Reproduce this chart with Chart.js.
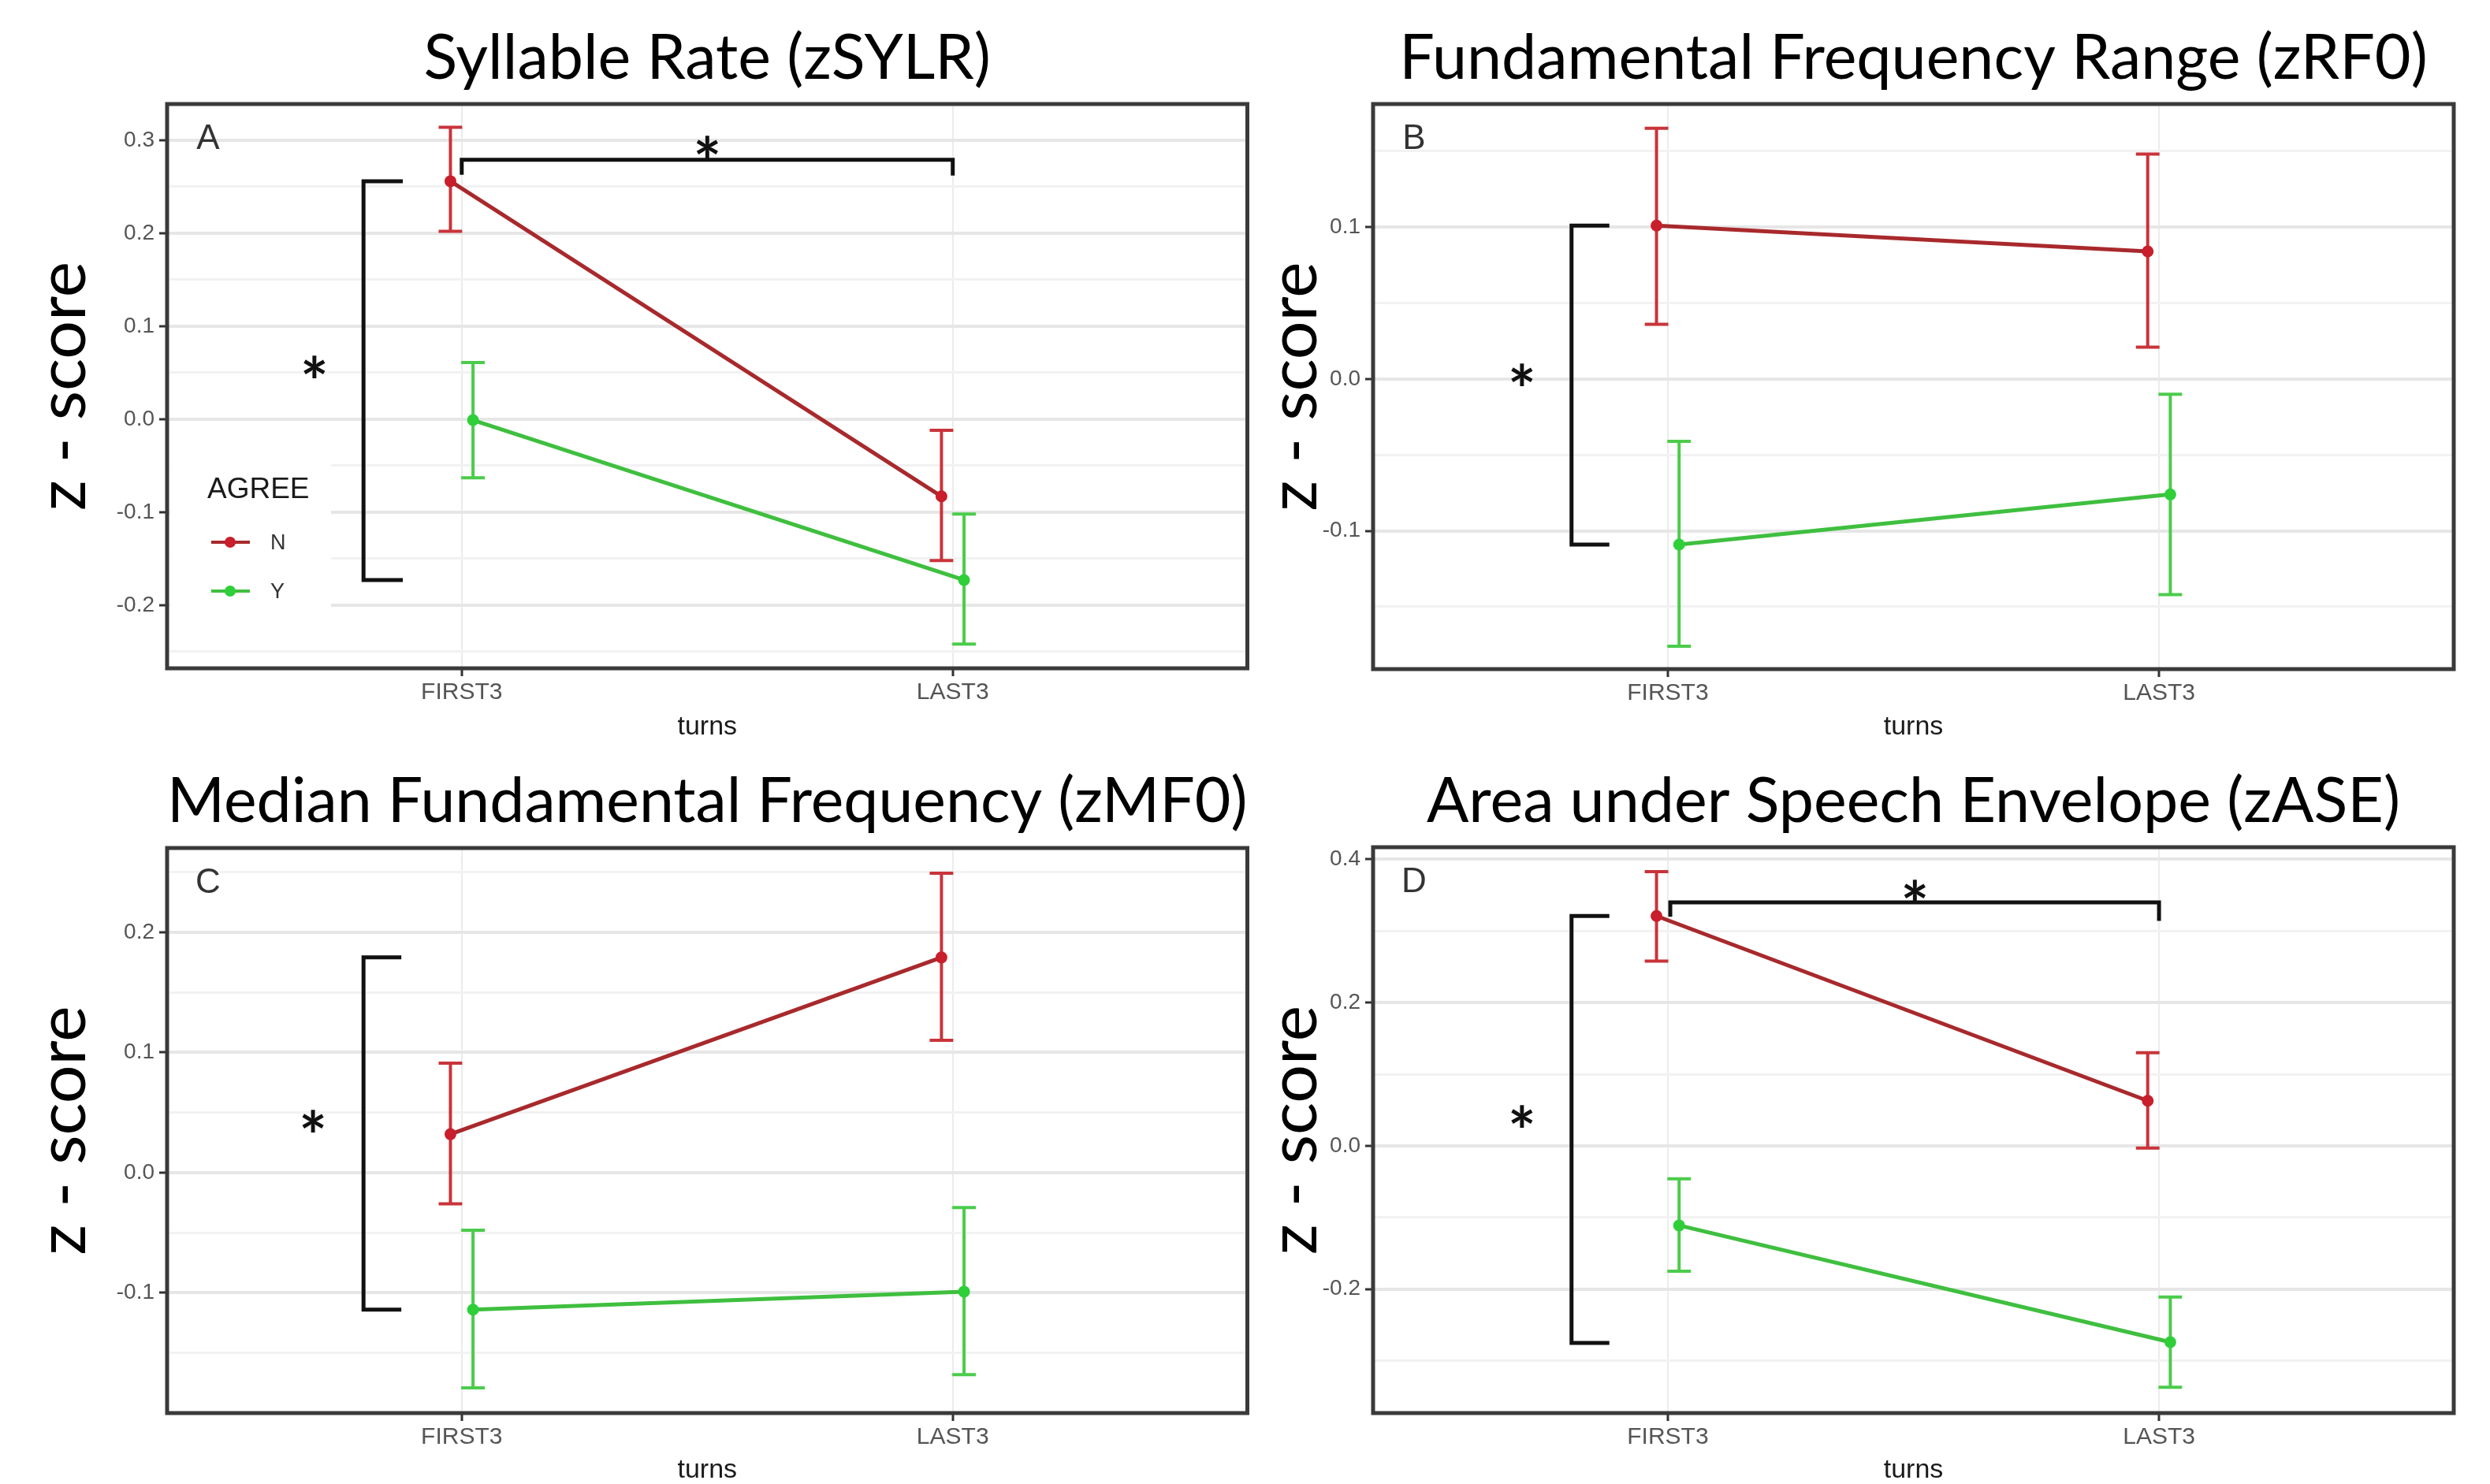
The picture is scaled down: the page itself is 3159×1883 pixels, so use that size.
<!DOCTYPE html>
<html>
<head>
<meta charset="utf-8">
<title>Prosody z-scores by turns and agreement</title>
<script src="https://cdn.jsdelivr.net/npm/chart.js@4.4.1/dist/chart.umd.min.js"></script>
<style>
  body { margin: 0; background: #fff; }
  #page { position: relative; width: 3159px; height: 1883px; background: #fff; overflow: hidden; }
  canvas { position: absolute; }
</style>
</head>
<body>
<div id="page">
  <canvas id="chartA" width="1590" height="945" style="left:0px;top:0px"></canvas>
  <canvas id="chartB" width="1569" height="945" style="left:1590px;top:0px"></canvas>
  <canvas id="chartC" width="1590" height="939" style="left:0px;top:944px"></canvas>
  <canvas id="chartD" width="1569" height="939" style="left:1590px;top:944px"></canvas>
</div>
<script>
const categories = ['FIRST3', 'LAST3'];
const groups = ['N', 'Y'];

// A - syllable rate
const sylrN = [0.256, -0.083];
const sylrNLow = [0.202, -0.152];
const sylrNHigh = [0.314, -0.012];
const sylrY = [-0.001, -0.173];
const sylrYLow = [-0.063, -0.242];
const sylrYHigh = [0.061, -0.102];
const sylrTicks = ['-0.2', '-0.1', '0.0', '0.1', '0.2', '0.3'];
const sylrMinor = [-0.25, -0.15, -0.05, 0.05, 0.15, 0.25];

// B - F0 range
const rf0N = [0.101, 0.084];
const rf0NLow = [0.036, 0.021];
const rf0NHigh = [0.165, 0.148];
const rf0Y = [-0.109, -0.076];
const rf0YLow = [-0.176, -0.142];
const rf0YHigh = [-0.041, -0.010];
const rf0Ticks = ['-0.1', '0.0', '0.1'];
const rf0Minor = [-0.15, -0.05, 0.05, 0.15];

// C - median F0
const mf0N = [0.032, 0.179];
const mf0NLow = [-0.026, 0.110];
const mf0NHigh = [0.091, 0.249];
const mf0Y = [-0.114, -0.099];
const mf0YLow = [-0.179, -0.168];
const mf0YHigh = [-0.048, -0.029];
const mf0Ticks = ['-0.1', '0.0', '0.1', '0.2'];
const mf0Minor = [-0.15, -0.05, 0.05, 0.15, 0.25];

// D - area under speech envelope
const aseN = [0.321, 0.063];
const aseNLow = [0.258, -0.003];
const aseNHigh = [0.383, 0.130];
const aseY = [-0.111, -0.274];
const aseYLow = [-0.175, -0.337];
const aseYHigh = [-0.046, -0.211];
const aseTicks = ['-0.2', '0.0', '0.2', '0.4'];
const aseMinor = [-0.3, -0.1, 0.1, 0.3];

// significance marks: [x, xArm, yTop, yBottom], star [x, y]
const sylrGroupBracket = [-0.2, -0.12, 0.256, -0.173];
const sylrGroupStar = [-0.30, 0.055];
const sylrTurnBracket = [0.0, 1.0, 0.279, 0.263, 0.262];
const sylrTurnStar = [0.5, 0.292];
const rf0GroupBracket = [-0.196, -0.119, 0.101, -0.109];
const rf0GroupStar = [-0.297, 0.002];
const mf0GroupBracket = [-0.2, -0.123, 0.179, -0.114];
const mf0GroupStar = [-0.303, 0.042];
const aseGroupBracket = [-0.196, -0.119, 0.321, -0.275];
const aseGroupStar = [-0.297, 0.040];
const aseTurnBracket = [0.005, 1.0, 0.340, 0.320, 0.314];
const aseTurnStar = [0.503, 0.354];

const RED_LINE = '#a8292c';
const RED_PT = '#c91e2b';
const RED_ERR = '#c8343a';
const GREEN_LINE = '#3fbf3f';
const GREEN_PT = '#2fcf3a';
const GREEN_ERR = '#4bcc4b';
const DODGE = 0.023;
const CAP = 0.024;
const TITLE_FONT = 'Lato';
const AXIS_FONT = 'Liberation Sans';
const STAR_SIZE = 84;

function points(vals, shift) {
  return vals.map((v, i) => ({ x: i + shift, y: v }));
}

const decor = {
  id: 'decor',
  beforeDatasetsDraw(chart) {
    const p = chart.options.plugins.decor;
    const { ctx, scales: { x, y } } = chart;
    ctx.save();
    ctx.lineCap = 'butt';
    p.errors.forEach(e => {
      ctx.strokeStyle = e.color;
      ctx.lineWidth = 4;
      e.low.forEach((lo, i) => {
        const cx = i + e.shift;
        const hi = e.high[i];
        ctx.beginPath();
        ctx.moveTo(x.getPixelForValue(cx), y.getPixelForValue(lo));
        ctx.lineTo(x.getPixelForValue(cx), y.getPixelForValue(hi));
        [lo, hi].forEach(v => {
          ctx.moveTo(x.getPixelForValue(cx - CAP), y.getPixelForValue(v));
          ctx.lineTo(x.getPixelForValue(cx + CAP), y.getPixelForValue(v));
        });
        ctx.stroke();
      });
    });
    ctx.restore();
  },
  afterDatasetsDraw(chart) {
    const p = chart.options.plugins.decor;
    const { ctx, chartArea: a, scales: { x, y } } = chart;
    const X = v => x.getPixelForValue(v);
    const Y = v => y.getPixelForValue(v);
    ctx.save();
    ctx.strokeStyle = '#111';
    ctx.lineWidth = 5;
    ctx.lineJoin = 'miter';
    // group bracket
    const g = p.group;
    ctx.beginPath();
    ctx.moveTo(X(g[1]), Y(g[2]));
    ctx.lineTo(X(g[0]), Y(g[2]));
    ctx.lineTo(X(g[0]), Y(g[3]));
    ctx.lineTo(X(g[1]), Y(g[3]));
    ctx.stroke();
    // turn bracket
    if (p.turn) {
      const t = p.turn;
      ctx.beginPath();
      ctx.moveTo(X(t[0]), Y(t[3]));
      ctx.lineTo(X(t[0]), Y(t[2]));
      ctx.lineTo(X(t[1]), Y(t[2]));
      ctx.lineTo(X(t[1]), Y(t[4]));
      ctx.stroke();
    }
    ctx.fillStyle = '#111';
    ctx.font = 'bold ' + STAR_SIZE + 'px ' + TITLE_FONT;
    ctx.textAlign = 'center';
    ctx.textBaseline = 'alphabetic';
    p.stars.forEach(s => ctx.fillText('*', X(s[0]), Y(s[1]) + STAR_SIZE * 0.55 + 2));
    // panel letter
    ctx.fillStyle = '#333';
    ctx.font = '44px ' + AXIS_FONT;
    ctx.textBaseline = 'middle';
    ctx.fillText(p.letter, a.left + 52, a.top + 45);
    // legend
    if (p.legend) {
      ctx.fillStyle = '#fff';
      ctx.fillRect(a.left + 3, a.top + 455, 205, 200);
      ctx.textAlign = 'left';
      ctx.fillStyle = '#1a1a1a';
      ctx.font = '37px ' + AXIS_FONT;
      ctx.fillText('AGREE', a.left + 51, a.top + 490);
      chart.data.datasets.forEach((ds, i) => {
        const ly = a.top + 556 + i * 62;
        ctx.strokeStyle = ds.borderColor;
        ctx.lineWidth = 4;
        ctx.beginPath();
        ctx.moveTo(a.left + 56, ly);
        ctx.lineTo(a.left + 105, ly);
        ctx.stroke();
        ctx.fillStyle = ds.pointBackgroundColor;
        ctx.beginPath();
        ctx.arc(a.left + 80, ly, 7, 0, Math.PI * 2);
        ctx.fill();
        ctx.fillStyle = '#333';
        ctx.font = '27px ' + AXIS_FONT;
        ctx.fillText(ds.label, a.left + 131, ly + 2);
      });
    }
    // panel frame
    ctx.strokeStyle = '#3a3a3a';
    ctx.lineWidth = 5;
    ctx.strokeRect(a.left, a.top, a.right - a.left, a.bottom - a.top);
    ctx.restore();
  }
};

function makePanel(cfg) {
  const titleSize = 79;
  const yTitleSize = 86;
  const majors = cfg.ticks.map(s => parseFloat(s));
  const titleTop = cfg.titleMid - titleSize / 2;
  return new Chart(document.getElementById(cfg.id), {
    type: 'line',
    data: {
      datasets: [
        {
          label: groups[0], data: points(cfg.n, -DODGE),
          borderColor: RED_LINE, borderWidth: 5,
          pointBackgroundColor: RED_PT, pointBorderWidth: 0, pointRadius: 7.5, pointHoverRadius: 7.5
        },
        {
          label: groups[1], data: points(cfg.y, DODGE),
          borderColor: GREEN_LINE, borderWidth: 5,
          pointBackgroundColor: GREEN_PT, pointBorderWidth: 0, pointRadius: 7.5, pointHoverRadius: 7.5
        }
      ]
    },
    options: {
      responsive: false,
      animation: false,
      events: [],
      layout: { padding: { left: 0, top: 0, bottom: 0, right: cfg.w - cfg.area[2] } },
      plugins: {
        legend: { display: false },
        tooltip: { enabled: false },
        title: {
          display: true, text: cfg.title, fullSize: false, color: '#000',
          font: { family: TITLE_FONT, size: titleSize, weight: 'normal', lineHeight: 1 },
          padding: { top: titleTop, bottom: cfg.area[1] - titleSize - titleTop }
        },
        decor: {
          letter: cfg.letter, legend: cfg.legend,
          group: cfg.group, turn: cfg.turn, stars: cfg.stars,
          errors: [
            { low: cfg.nLow, high: cfg.nHigh, shift: -DODGE, color: RED_ERR },
            { low: cfg.yLow, high: cfg.yHigh, shift: DODGE, color: GREEN_ERR }
          ]
        }
      },
      scales: {
        x: {
          type: 'linear', min: -0.6, max: 1.6,
          afterBuildTicks: s => { s.ticks = categories.map((c, i) => ({ value: i })); },
          afterFit: s => { s.height = cfg.h - cfg.area[3]; },
          ticks: {
            callback: (v, i) => categories[i], autoSkip: false, maxRotation: 0,
            font: { family: AXIS_FONT, size: 30 }, color: '#555', padding: 3
          },
          grid: { color: '#ececec', lineWidth: 2, tickColor: '#333', tickLength: 10, tickWidth: 3 },
          border: { display: false },
          title: {
            display: true, text: 'turns', color: '#1a1a1a',
            font: { family: AXIS_FONT, size: 34, lineHeight: 1 },
            padding: { top: 0, bottom: cfg.xTitlePad }
          }
        },
        y: {
          min: cfg.min, max: cfg.max,
          afterBuildTicks: s => {
            s.ticks = majors.map(v => ({ value: v, major: true }))
              .concat(cfg.minor.map(v => ({ value: v, major: false })))
              .sort((p, q) => p.value - q.value);
          },
          afterFit: s => { s.width = cfg.area[0]; },
          ticks: {
            callback: (v, i, ticks) => ticks[i].major ? cfg.ticks[majors.indexOf(ticks[i].value)] : '',
            autoSkip: false, font: { family: AXIS_FONT, size: 28 }, color: '#555', padding: 6
          },
          grid: {
            color: c => c.tick && c.tick.major ? '#e6e6e6' : '#f2f2f2',
            lineWidth: c => c.tick && c.tick.major ? 4 : 3,
            tickColor: c => c.tick && c.tick.major ? '#333' : 'rgba(0,0,0,0)',
            tickLength: 10, tickWidth: 3
          },
          border: { display: false },
          title: {
            display: true, text: 'z - score', color: '#000',
            font: { family: TITLE_FONT, size: yTitleSize, lineHeight: 1 },
            padding: { top: cfg.yTitlePad, bottom: 0 }
          }
        }
      }
    },
    plugins: [decor]
  });
}

makePanel({
  id: 'chartA', letter: 'A', title: 'Syllable Rate (zSYLR)', legend: true,
  n: sylrN, nLow: sylrNLow, nHigh: sylrNHigh, y: sylrY, yLow: sylrYLow, yHigh: sylrYHigh,
  ticks: sylrTicks, minor: sylrMinor, min: -0.268, max: 0.339,
  group: sylrGroupBracket, turn: sylrTurnBracket, stars: [sylrGroupStar, sylrTurnStar],
  w: 1590, h: 945, area: [212, 132, 1584, 848], titleMid: 75, xTitlePad: 5, yTitlePad: 37
});
makePanel({
  id: 'chartB', letter: 'B', title: 'Fundamental Frequency Range (zRF0)', legend: false,
  n: rf0N, nLow: rf0NLow, nHigh: rf0NHigh, y: rf0Y, yLow: rf0YLow, yHigh: rf0YHigh,
  ticks: rf0Ticks, minor: rf0Minor, min: -0.191, max: 0.181,
  group: rf0GroupBracket, turn: null, stars: [rf0GroupStar],
  w: 1569, h: 945, area: [152, 132, 1523, 849], titleMid: 75, xTitlePad: 5, yTitlePad: 9
});
makePanel({
  id: 'chartC', letter: 'C', title: 'Median Fundamental Frequency (zMF0)', legend: false,
  n: mf0N, nLow: mf0NLow, nHigh: mf0NHigh, y: mf0Y, yLow: mf0YLow, yHigh: mf0YHigh,
  ticks: mf0Ticks, minor: mf0Minor, min: -0.200, max: 0.270,
  group: mf0GroupBracket, turn: null, stars: [mf0GroupStar],
  w: 1590, h: 939, area: [212, 132, 1584, 849], titleMid: 74, xTitlePad: 0, yTitlePad: 37
});
makePanel({
  id: 'chartD', letter: 'D', title: 'Area under Speech Envelope (zASE)', legend: false,
  n: aseN, nLow: aseNLow, nHigh: aseNHigh, y: aseY, yLow: aseYLow, yHigh: aseYHigh,
  ticks: aseTicks, minor: aseMinor, min: -0.373, max: 0.417,
  group: aseGroupBracket, turn: aseTurnBracket, stars: [aseGroupStar, aseTurnStar],
  w: 1569, h: 939, area: [152, 131, 1523, 849], titleMid: 74, xTitlePad: 0, yTitlePad: 9
});
</script>
</body>
</html>
